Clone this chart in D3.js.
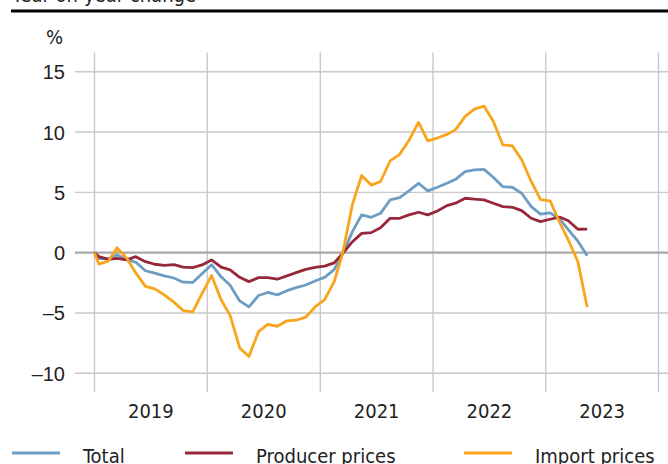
<!DOCTYPE html>
<html>
<head>
<meta charset="utf-8">
<script src="https://cdn.jsdelivr.net/npm/d3@7"></script>
<style>
  body { margin: 0; background: #fff; }
  svg { display: block; font-family: "Liberation Sans Narrow", "DejaVu Sans Condensed", sans-serif; }
  text { fill: #222; }
</style>
</head>
<body>
<svg id="chart" width="668" height="464"></svg>
<script>
// monthly values, Jan 2019 .. May 2023 (year-on-year change, %)
var seriesStart = 0;
var total = [
	-0.5, -0.5, -0.2, -0.55, -0.8, -1.5, -1.7, -1.93, -2.1, -2.45, -2.47, -1.75,
	-1.0, -2.0, -2.7, -4.0, -4.5, -3.55, -3.3, -3.5, -3.15, -2.9, -2.68, -2.35,
	-2.05, -1.4, -0.05, 1.74, 3.13, 2.93, 3.26, 4.37, 4.56, 5.12, 5.75, 5.12,
	5.42, 5.75, 6.08, 6.72, 6.86, 6.9, 6.25, 5.47, 5.42, 4.92, 3.82, 3.2,
	3.3, 2.8, 1.9, 0.95, -0.25
];
var producer = [
	-0.33, -0.55, -0.47, -0.6, -0.33, -0.75, -0.96, -1.05, -1.0, -1.2, -1.24, -1.02,
	-0.6, -1.2, -1.43, -2.04, -2.4, -2.07, -2.07, -2.2, -1.93, -1.66, -1.38, -1.22,
	-1.12, -0.85, -0.05, 0.91, 1.6, 1.66, 2.07, 2.85, 2.85, 3.13, 3.35, 3.13,
	3.46, 3.9, 4.1, 4.51, 4.43, 4.37, 4.1, 3.82, 3.76, 3.48, 2.85, 2.57,
	2.77, 2.95, 2.65, 1.94, 1.95
];
var importPrices = [
	-0.95, -0.7, 0.4, -0.45, -1.7, -2.8, -3.0, -3.5, -4.1, -4.8, -4.9, -3.4,
	-1.9, -3.9, -5.2, -7.9, -8.6, -6.55, -5.95, -6.1, -5.65, -5.6, -5.35, -4.5,
	-3.9, -2.4, 0.0, 4.0, 6.4, 5.6, 5.9, 7.6, 8.15, 9.3, 10.8, 9.26,
	9.5, 9.8, 10.2, 11.3, 11.9, 12.15, 10.9, 8.93, 8.85, 7.7, 5.9, 4.4,
	4.3, 2.5, 1.05, -0.75, -4.5
];
var years = [2019, 2020, 2021, 2022, 2023];
var yTicks = [-10, -5, 0, 5, 10, 15];
var seriesNames = ["Total", "Producer prices", "Import prices"];
var seriesColors = ["#6d9dc5", "#97283a", "#f8a51b"];

var svg = d3.select("#chart");

// series start at 1 Jan 2019, then one point per month (mid-month)
var dates = [new Date(2019, 0, 1)].concat(total.map(function(v, i) {
	return new Date(2019, i, 15);
}));

var x = d3.scaleTime()
	.domain([new Date(years[0], 0, 1), new Date(years[years.length - 1] + 1, 0, 1)])
	.range([94.5, 658.5]);

var y = d3.scaleLinear()
	.domain([-10, 15])
	.range([373.3, 71.7]);

var plotTop = y(16.6), plotBottom = y(-11.55);

// title (cut off at the top) and rule
svg.append("text")
	.attr("x", 12)
	.attr("y", 2)
	.style("font-size", "20px")
	.text("Year-on-year change");

svg.append("rect")
	.attr("x", 11).attr("y", 9.5)
	.attr("width", 657).attr("height", 3)
	.attr("fill", "#000");

svg.append("text")
	.attr("x", 46)
	.attr("y", 44)
	.style("font-size", "20px")
	.text("%");

// horizontal grid
var yAxis = d3.axisLeft(y)
	.tickValues(yTicks)
	.tickSize(0)
	.tickPadding(0)
	.tickFormat(function(d) { return d < 0 ? "\u2013" + Math.abs(d) : d; });

var gy = svg.append("g")
	.attr("transform", "translate(65,0)")
	.call(yAxis);
gy.select(".domain").remove();
gy.selectAll("text")
	.style("font-size", "20px")
	.style("font-family", null)
	.attr("fill", "#222")
	.attr("dy", "0.35em");

svg.append("g").selectAll("line")
	.data(yTicks.filter(function(d) { return d !== 0; }))
	.enter().append("line")
	.attr("x1", 75).attr("x2", 668)
	.attr("y1", function(d) { return y(d); })
	.attr("y2", function(d) { return y(d); })
	.attr("stroke", "#c9c9c9")
	.attr("stroke-width", 1.4);

// vertical grid at year boundaries
var yearBounds = years.concat([years[years.length - 1] + 1]);
svg.append("g").selectAll("line")
	.data(yearBounds)
	.enter().append("line")
	.attr("x1", function(d) { return x(new Date(d, 0, 1)); })
	.attr("x2", function(d) { return x(new Date(d, 0, 1)); })
	.attr("y1", plotTop).attr("y2", plotBottom)
	.attr("stroke", "#c9c9c9")
	.attr("stroke-width", 1.4);

// zero line
svg.append("line")
	.attr("x1", 75).attr("x2", 668)
	.attr("y1", y(0)).attr("y2", y(0))
	.attr("stroke", "#a9a9a9")
	.attr("stroke-width", 2.2);

// year labels centred in each year
svg.append("g").selectAll("text")
	.data(years)
	.enter().append("text")
	.attr("x", function(d) { return (x(new Date(d, 0, 1)) + x(new Date(d + 1, 0, 1))) / 2; })
	.attr("y", 418)
	.attr("text-anchor", "middle")
	.style("font-size", "20px")
	.text(function(d) { return d; });

// lines
var line = d3.line()
	.x(function(d) { return x(d.date); })
	.y(function(d) { return y(d.value); });

var series = [total, producer, importPrices].map(function(values, k) {
	return {
		name: seriesNames[k],
		color: seriesColors[k],
		points: [seriesStart].concat(values).map(function(v, i) {
			return { date: dates[i], value: v };
		})
	};
});

svg.append("g").selectAll("path")
	.data(series)
	.enter().append("path")
	.attr("d", function(s) { return line(s.points); })
	.attr("fill", "none")
	.attr("stroke", function(s) { return s.color; })
	.attr("stroke-width", 2.8)
	.attr("stroke-linejoin", "round");

// legend
var legendX = [12, 185, 464];
var legend = svg.append("g").selectAll("g")
	.data(series)
	.enter().append("g")
	.attr("transform", function(s, i) { return "translate(" + legendX[i] + ",453)"; });

legend.append("line")
	.attr("x1", 0).attr("x2", 48)
	.attr("stroke", function(s) { return s.color; })
	.attr("stroke-width", 3);

legend.append("text")
	.attr("x", 71)
	.attr("y", 10)
	.style("font-size", "20px")
	.text(function(s) { return s.name; });
</script>
</body>
</html>
